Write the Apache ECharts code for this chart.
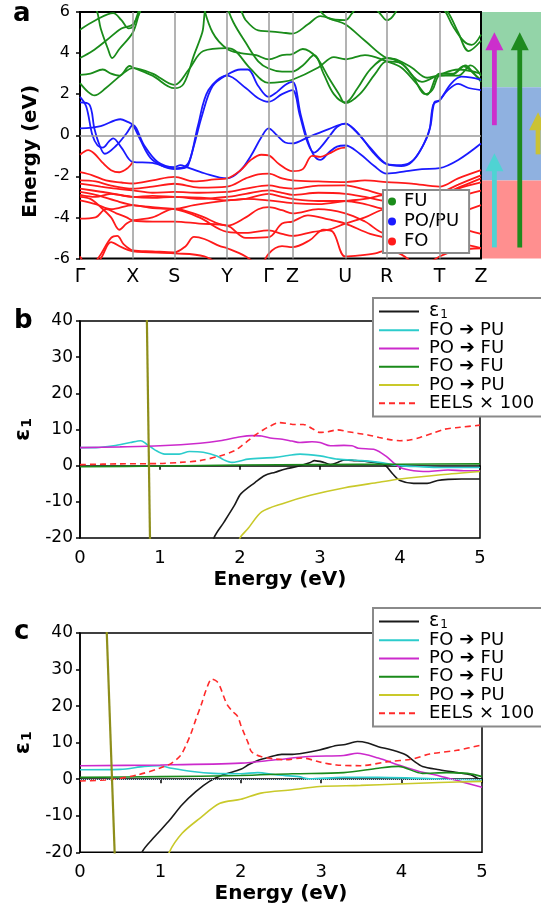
<!DOCTYPE html>
<html>
<head>
<meta charset="utf-8">
<script src="https://cdn.jsdelivr.net/npm/echarts@6/dist/echarts.min.js"></script>
<style>
  html, body { margin: 0; padding: 0; background: #fff; }
  #chart { width: 541px; height: 913px; }
</style>
</head>
<body>
<div id="chart"></div>
<script>
// panel a: k-path positions and labels
var kPos = [0, 51, 91, 142, 182, 205, 256, 296, 347, 387];
var kLabels = ["Γ", "X", "S", "Y", "Γ", "Z", "U", "R", "T", "Z"];

// FU bands (green)
var bandsFU = [
  [[0,2.54],[8,2.1],[14,1.94],[25,2.3],[40,2.94],[51,3.27],[70,3.0],[91,2.45],[105,3.2],[119,4.1],[142,4.24],[150,4.1],[164,3.27],[182,2.55],[195,2.6],[205,2.7],[230,3.3],[245,3.8],[256,3.7],[275,3.9],[296,3.6],[310,3.3],[325,2.5],[335,1.97],[347,3.0],[360,3.0],[370,3.36],[387,2.6]],
  [[0,2.94],[10,3.0],[22,3.2],[30,3.0],[38,2.9],[48,3.37],[51,3.3],[70,2.9],[91,2.29],[100,2.5],[110,3.9],[118,5.0],[124,6.3],[150,6.4],[160,5.6],[172,5.1],[182,5.06],[195,5.0],[205,4.95],[220,5.4],[232,5.8],[245,5.6],[256,5.4],[275,4.6],[296,3.76],[305,3.7],[320,3.3],[335,2.8],[347,2.9],[365,2.9],[377,3.4],[387,2.9]],
  [[0,3.76],[12,4.1],[25,4.6],[40,5.2],[51,5.4],[60,6.3]],
  [[0,5.14],[15,5.6],[32,5.95],[40,5.6],[47,5.2],[51,5.3],[55,5.8],[58,6.3]],
  [[0,7.0],[15,6.2],[20,5.2],[27,4.2],[31,3.76],[38,4.2],[51,5.0],[57,5.9],[62,6.5]],
  [[118,6.5],[128,5.0],[142,4.2],[155,4.0],[170,3.9],[182,3.69],[195,3.9],[205,3.95],[215,4.2],[228,3.8],[240,2.8],[250,2.0],[256,1.56],[270,2.0],[285,3.0],[296,3.6],[310,3.5],[322,2.8],[333,2.0],[340,2.2],[347,2.9],[360,2.95],[372,3.4],[380,3.0],[387,2.7]],
  [[140,6.5],[148,5.5],[160,4.5],[172,3.6],[182,3.25],[195,3.1],[205,3.1],[215,3.4],[226,3.9],[235,3.0],[245,2.0],[256,1.6],[268,2.3],[280,3.2],[296,3.76],[310,3.5],[330,2.6],[347,2.95],[365,3.2],[387,3.0]],
  [[225,6.5],[240,5.7],[256,5.6],[262,5.9],[270,6.5]],
  [[280,6.5],[290,5.9],[296,5.6],[302,5.8],[310,6.5]],
  [[338,6.5],[350,6.2],[360,5.3],[370,4.6],[378,4.4],[387,4.9]],
  [[345,6.5],[355,6.0],[365,5.0],[375,4.1],[387,4.6]]
];

// PO/PU bands (blue)
var bandsPO = [
  [[0,1.87],[6,1.4],[12,0.0],[17,-0.5],[22,-0.6],[28,-0.3],[32,-0.15],[40,-0.6],[51,-1.3],[70,-1.35],[91,-1.65],[100,-1.6],[104,-1.5],[110,-0.5],[118,1.0],[128,2.4],[142,2.95],[155,3.2],[162,3.2],[172,2.4],[182,1.87],[190,2.1],[198,2.45],[205,2.6],[213,1.0],[220,-0.3],[226,-1.0],[232,-1.2],[240,-0.85],[248,-0.55],[256,-0.5],[270,-0.9],[284,-1.5],[296,-1.87],[315,-1.75],[330,-1.65],[347,-1.6],[365,-1.2],[387,-0.4]],
  [[0,1.6],[9,1.5],[14,0.3],[19,-0.5],[24,-0.9],[35,-0.5],[45,0.1],[51,0.5],[62,-0.5],[75,-1.3],[91,-1.55],[97,-1.45],[103,-1.55],[120,-1.85],[142,-2.1],[155,-1.7],[165,-1.0],[175,-0.1],[182,0.33],[190,0.0],[198,-0.35],[205,-0.4],[220,-0.1],[240,0.3],[256,0.57],[266,0.2],[280,-0.6],[296,-1.4],[310,-1.5],[320,-1.3],[330,-0.6],[337,0.2],[341,1.5],[347,1.7],[355,2.2],[365,2.5],[375,2.3],[387,2.2]],
  [[0,0.33],[20,0.45],[39,0.78],[46,0.65],[51,0.5],[58,-0.2],[68,-1.1],[80,-1.5],[91,-1.6],[100,-1.55],[106,-1.2],[114,0.5],[124,2.2],[142,2.9],[160,2.3],[172,1.8],[182,1.63],[195,2.0],[205,2.2],[212,1.0],[220,-0.4],[226,-0.85],[232,-0.6],[240,-0.1],[248,0.4],[256,0.57],[270,0.0],[284,-0.9],[296,-1.4],[310,-1.45],[322,-1.2],[332,-0.4],[338,0.4],[342,1.6],[347,1.7],[358,2.5],[368,2.85],[378,2.8],[387,2.7]]
];

// FO bands (red)
var bandsFO = [
  [[0,-0.95],[8,-0.72],[14,-0.9],[22,-1.35],[30,-1.7],[38,-1.8],[46,-1.6],[51,-1.3]],
  [[0,-1.8],[12,-1.95],[25,-2.2],[40,-2.3],[51,-2.35],[70,-2.2],[91,-2.03],[110,-2.25],[130,-2.15],[142,-2.1],[155,-1.7],[165,-1.2],[175,-0.95],[182,-0.98],[192,-1.4],[205,-1.75],[215,-1.65],[224,-1.0],[232,-1.05],[240,-0.9],[250,-0.65],[256,-0.6]],
  [[0,-2.2],[15,-2.25],[30,-2.45],[51,-2.6],[70,-2.5],[91,-2.36],[115,-2.55],[142,-2.5],[160,-2.1],[172,-1.9],[182,-1.87],[195,-2.1],[205,-2.2],[230,-2.25],[256,-2.28],[275,-2.2],[296,-2.28],[320,-2.35],[347,-2.5],[365,-2.1],[387,-1.7]],
  [[0,-2.35],[20,-2.5],[35,-2.6],[51,-2.68],[70,-2.8],[91,-2.76],[115,-2.8],[142,-2.76],[160,-2.6],[182,-2.44],[195,-2.55],[205,-2.6],[230,-2.45],[256,-2.44],[275,-2.65],[296,-2.9],[320,-2.7],[347,-2.76],[365,-2.4],[387,-1.95]],
  [[0,-2.6],[20,-2.75],[51,-3.0],[70,-3.05],[91,-3.0],[115,-3.1],[142,-3.0],[160,-2.85],[182,-2.68],[195,-2.8],[205,-2.9],[230,-2.8],[256,-2.85],[275,-3.0],[296,-3.2],[320,-3.0],[347,-3.0],[365,-2.6],[387,-2.3]],
  [[0,-2.76],[15,-2.9],[35,-3.2],[51,-3.4],[70,-3.5],[91,-3.58],[110,-3.4],[142,-3.17],[160,-3.1],[182,-2.85],[195,-3.0],[205,-3.1],[230,-3.2],[256,-3.2],[275,-3.35],[296,-3.6],[320,-3.4],[347,-3.3],[365,-3.0],[387,-2.7]],
  [[0,-2.9],[15,-3.0],[30,-2.85],[51,-3.0],[70,-2.95],[91,-3.0],[120,-3.05],[142,-3.17],[160,-3.1],[182,-3.17],[205,-3.3],[230,-3.35],[256,-3.2],[275,-3.1],[296,-2.9],[320,-2.95],[347,-2.9],[365,-2.55],[387,-2.1]],
  [[0,-3.0],[10,-3.1],[20,-3.5],[30,-4.0],[38,-4.6],[45,-4.3],[51,-4.15],[70,-4.0],[91,-3.58],[115,-3.9],[142,-4.4],[160,-4.0],[172,-3.6],[182,-3.5],[195,-3.65],[205,-3.8],[230,-3.6],[256,-3.8],[275,-4.2],[296,-4.8],[320,-4.5],[347,-4.15],[365,-3.8],[387,-3.4]],
  [[0,-3.17],[15,-3.35],[30,-3.6],[51,-3.4],[70,-3.55],[91,-3.6],[115,-4.0],[142,-4.7],[160,-4.75],[182,-4.63],[195,-4.8],[205,-4.9],[225,-4.7],[240,-4.6],[256,-4.3],[275,-4.0],[296,-3.6],[320,-3.8],[347,-4.15],[365,-4.5],[387,-4.8]],
  [[0,-4.06],[15,-4.0],[25,-3.6],[35,-3.8],[45,-4.0],[51,-4.15],[70,-4.2],[91,-4.2],[115,-4.3],[142,-4.4],[160,-5.0],[182,-4.96],[195,-4.3],[205,-4.2],[220,-3.9],[240,-4.1],[256,-4.3],[280,-4.8],[296,-5.0],[320,-5.3],[347,-5.45],[365,-5.3],[387,-5.5]],
  [[10,-6.5],[20,-5.8],[30,-5.0],[36,-4.9],[42,-5.3],[51,-5.6],[70,-5.65],[91,-5.7],[102,-5.4],[110,-4.95],[120,-5.05],[135,-5.4],[142,-5.5],[160,-5.9],[170,-6.3]],
  [[0,-5.9],[10,-6.5],[20,-6.0],[30,-5.2],[40,-5.45],[51,-5.65],[91,-5.75],[120,-5.9],[140,-6.5]],
  [[175,-6.5],[182,-5.77],[195,-5.4],[205,-5.45],[222,-5.1],[235,-4.6],[244,-4.7],[256,-5.9],[270,-5.85],[285,-5.75],[296,-5.6],[310,-5.8],[325,-6.4]],
  [[330,-6.5],[347,-5.9],[365,-5.6],[387,-5.5]]
];

// schematic on the right of panel a (energies in eV)
var regionEdges = [6, 2.34, -2.2, -6];
var arrowSlot = [0.21, 0.21, 0.64, 0.95];
var arrowFrom = [0.49, -5.46, -5.46, -0.93];
var arrowTo = [5.02, -0.88, 5.02, 1.12];

// panel b
var epsB = [[1.6,-26],[1.68,-19.7],[1.8,-15.6],[1.93,-11],[2.01,-7.8],[2.19,-4.6],[2.31,-2.7],[2.44,-1.8],[2.57,-0.9],[2.7,-0.3],[2.88,0.9],[2.93,1.4],[3.05,0.9],[3.13,0.3],[3.22,0.9],[3.31,1.6],[3.44,1.4],[3.56,1.2],[3.74,0.7],[3.82,0],[3.91,-2.3],[4.0,-4.1],[4.17,-4.9],[4.34,-4.9],[4.47,-4.1],[4.6,-3.8],[4.77,-3.7],[5.0,-3.7]];
var foPuB = [[0,5.0],[0.2,5.0],[0.42,5.5],[0.63,6.4],[0.76,6.9],[0.83,6.0],[0.94,4.3],[1.06,3.2],[1.24,3.2],[1.37,3.9],[1.54,3.7],[1.71,2.7],[1.8,1.6],[1.9,0.9],[2.0,1.3],[2.1,1.8],[2.44,2.3],[2.6,2.8],[2.75,3.2],[3.0,2.7],[3.22,1.8],[3.52,1.4],[3.74,0.9],[4.0,0],[4.25,-0.3],[4.51,-0.5],[5.0,-0.5]];
var poFuB = [[0,5.0],[0.5,5.2],[1.0,5.5],[1.5,6.2],[1.75,6.9],[2.01,8.0],[2.15,8.3],[2.27,8.2],[2.4,7.6],[2.53,7.3],[2.65,6.8],[2.75,6.4],[2.9,6.6],[3.0,6.4],[3.13,5.5],[3.3,5.6],[3.4,5.5],[3.48,4.8],[3.69,4.4],[3.82,2.7],[3.92,0.8],[4.0,-0.5],[4.17,-1.4],[4.34,-1.6],[4.6,-1.2],[4.8,-1.4],[5.0,-1.4]];
var foFuB = [[0,-0.3],[1,-0.1],[2,0.2],[3,0.3],[4,0.4],[5,0.5]];
var poPuB = [[1.95,-24],[2.0,-20],[2.1,-17.4],[2.27,-12.8],[2.53,-10.5],[2.88,-8.2],[3.31,-6.1],[3.74,-4.6],[4.0,-3.7],[4.51,-2.5],[5.0,-1.6]];
var poleB = [[0.833,45],[0.878,-25]];
var eelsB = [[0,0.3],[0.5,0.5],[1,0.6],[1.25,0.9],[1.5,1.4],[1.75,2.7],[1.93,4.1],[2.02,5.5],[2.1,6.9],[2.18,8.3],[2.27,9.6],[2.38,11.0],[2.49,11.9],[2.58,11.7],[2.66,11.4],[2.79,11.4],[2.9,10.3],[3.0,9.2],[3.1,9.4],[3.22,9.9],[3.35,9.4],[3.48,8.9],[3.6,8.5],[3.74,7.8],[3.87,7.2],[4.0,6.9],[4.12,7.1],[4.25,7.8],[4.4,8.9],[4.56,10.1],[4.75,10.6],[5.0,11.2]];

// panel c
var epsC = [[0.72,-25],[0.77,-20],[0.93,-15.7],[1.1,-11.6],[1.27,-7.0],[1.44,-3.4],[1.61,-0.6],[1.78,1.2],[2.0,2.7],[2.1,4.0],[2.21,5.1],[2.35,6.0],[2.51,6.8],[2.64,6.8],[2.77,7.1],[2.98,8.0],[3.19,9.2],[3.3,9.5],[3.45,10.3],[3.58,9.9],[3.71,8.9],[3.88,8.0],[4.05,6.7],[4.15,5.0],[4.26,3.5],[4.47,2.6],[4.69,1.8],[4.86,1.2],[4.95,0.2],[5.0,-0.2]];
var foPuC = [[0,2.6],[0.5,2.7],[0.8,3.5],[0.99,3.7],[1.14,3.0],[1.4,2.1],[1.66,1.6],[2.0,1.5],[2.21,1.8],[2.43,1.2],[2.72,0.7],[2.85,0.1],[3.28,0.5],[3.71,0.5],[4.13,0.3],[4.56,0],[5.0,-0.2]];
var poFuC = [[0,3.7],[1,3.9],[2,4.4],[2.43,5.3],[2.85,6.2],[3.28,6.5],[3.45,7.1],[3.71,5.8],[3.96,3.9],[4.22,2.1],[4.47,0.9],[4.73,-0.6],[5.0,-2.2]];
var foFuC = [[0,0.5],[1,0.7],[2,1.0],[2.64,1.5],[3.28,1.8],[3.71,3.0],[3.96,3.5],[4.26,1.6],[4.56,1.8],[4.82,1.6],[5.0,0.7]];
var poPuC = [[1.05,-25],[1.11,-20],[1.27,-14.8],[1.49,-10.7],[1.74,-6.6],[2.0,-5.5],[2.25,-3.8],[2.64,-2.9],[2.98,-2.0],[3.49,-1.7],[3.96,-1.3],[4.47,-0.9],[5.0,-0.6]];
var poleC = [[0.325,45],[0.439,-25]];
var eelsC = [[0,-0.5],[0.42,0],[0.72,1.2],[0.99,3.0],[1.14,4.4],[1.25,6.5],[1.31,8.9],[1.38,12.5],[1.44,16.3],[1.51,20.5],[1.57,24.5],[1.64,27.4],[1.7,26.8],[1.74,25.4],[1.79,22.5],[1.83,20.4],[1.9,18.5],[1.96,17.2],[2.0,14.8],[2.04,12.6],[2.09,10],[2.13,7.6],[2.19,6.7],[2.25,6.2],[2.4,5.6],[2.55,5.3],[2.77,5.8],[2.98,4.7],[3.19,3.9],[3.49,3.7],[3.83,4.8],[4.13,5.5],[4.35,6.9],[4.69,7.9],[5.0,9.4]];

var font = "DejaVu Sans, Liberation Sans, sans-serif";
var regionColors = ["#93d4a8", "#8fb1e0", "#ff8f8f"];
var arrowColors = ["#cc2fcc", "#4fd3d3", "#1e8a1e", "#cbc234"];
var specNames = ["ε1", "FO ➔ PU", "PO ➔ FU", "FO ➔ FU", "PO ➔ PU", "EELS × 100"];
var specColors = ["#1a1a1a", "#2ccccc", "#cc2acc", "#1a8a1a", "#c9c92a", "#ff2a2a"];

var chart = echarts.init(document.getElementById("chart"), null, { renderer: "canvas" });

function bandSeries(bands, name, color) {
  return bands.map(function (b) {
    return {
      type: "line", name: name, xAxisIndex: 0, yAxisIndex: 0,
      data: b, smooth: 0.35, symbol: "none", clip: true, z: 3,
      itemStyle: { color: color },
      lineStyle: { color: color, width: 1.8 }
    };
  });
}

function specSeries(panel, sets, pole) {
  var out = sets.map(function (d, i) {
    return {
      type: "line", name: specNames[i], xAxisIndex: panel, yAxisIndex: panel,
      data: d, smooth: 0.3, symbol: "none", clip: true, z: i === 0 ? 3 : 4,
      itemStyle: { color: specColors[i] },
      lineStyle: { color: specColors[i], width: 1.6, type: i === 5 ? [6, 4] : "solid" }
    };
  });
  out.push({
    type: "line", name: "pole", xAxisIndex: panel, yAxisIndex: panel,
    data: pole, symbol: "none", clip: true, z: 5,
    lineStyle: { color: "#8e8e1a", width: 2.2 }
  });
  return out;
}

var epsRich = {
  e: { fontFamily: font, fontSize: 22, fontWeight: "bold", color: "#000" },
  s: { fontFamily: font, fontSize: 14, fontWeight: "bold", color: "#000", padding: [9, 0, 0, 1] }
};

function specAxes(idx, nameGapX) {
  return {
    x: {
      type: "value", gridIndex: idx, min: 0, max: 5, interval: 1,
      name: "Energy (eV)", nameLocation: "middle", nameGap: nameGapX,
      nameTextStyle: { fontFamily: font, fontSize: 20, fontWeight: "bold", color: "#000" },
      axisLine: { show: true, lineStyle: { color: "#000", width: 1.5 } },
      axisTick: { show: true, length: 4, lineStyle: { color: "#000", width: 1.5 } },
      axisLabel: { fontFamily: font, fontSize: 18, color: "#000", margin: 11 },
      splitLine: { show: false }
    },
    y: {
      type: "value", gridIndex: idx, min: -20, max: 40, interval: 10,
      name: "{e|ε}{s|1}", nameLocation: "middle", nameGap: 38, nameRotate: 90,
      nameTextStyle: { rich: epsRich },
      axisLine: { show: true, lineStyle: { color: "#000", width: 1.5 } },
      axisTick: { show: true, length: 4, lineStyle: { color: "#000", width: 1.5 } },
      axisLabel: { fontFamily: font, fontSize: 17, color: "#000", margin: 7 },
      splitLine: { show: false }
    }
  };
}

var axB = specAxes(2, 32);
var axC = specAxes(3, 31);

function specLegend(top) {
  return {
    data: specNames, left: 373, top: top, orient: "vertical",
    itemWidth: 40, itemHeight: 12, itemGap: 0,
    padding: [4, 30, 4, 5],
    itemStyle: { opacity: 0 },
    backgroundColor: "#fff", borderColor: "#8a8a8a", borderWidth: 2,
    formatter: function (name) {
      return name === specNames[0] ? "{e|ε}{s|1}" : name;
    },
    textStyle: {
      fontFamily: font, fontSize: 18, color: "#000", lineHeight: 18.3, padding: [0, 0, 0, 5],
      rich: {
        e: { fontFamily: font, fontSize: 19, color: "#000", lineHeight: 18.3 },
        s: { fontFamily: font, fontSize: 12, color: "#000", lineHeight: 11, padding: [7, 0, 0, 1] }
      }
    }
  };
}

var option = {
  animation: false,
  backgroundColor: "#fff",
  grid: [
    { left: 80, top: 12, width: 401, height: 246.5, show: true, borderColor: "#000", borderWidth: 2, backgroundColor: "transparent" },
    { left: 482, top: 12, width: 59, height: 246.5 },
    { left: 80, top: 321, width: 400, height: 217, show: true, borderColor: "#000", borderWidth: 1.5 },
    { left: 80, top: 633, width: 402, height: 219.3, show: true, borderColor: "#000", borderWidth: 1.5 }
  ],
  xAxis: [
    {
      type: "value", gridIndex: 0, min: 0, max: 387,
      axisLine: { show: false }, axisTick: { show: false }, splitLine: { show: false },
      axisLabel: {
        customValues: kPos, showMinLabel: true, showMaxLabel: true,
        fontFamily: font, fontSize: 19, color: "#000", margin: 9,
        formatter: function (v) { return kLabels[kPos.indexOf(v)]; }
      }
    },
    { type: "value", gridIndex: 1, min: 0, max: 1, show: false },
    axB.x, axC.x
  ],
  yAxis: [
    {
      type: "value", gridIndex: 0, min: -6, max: 6, interval: 2,
      name: "Energy (eV)", nameLocation: "middle", nameGap: 39,
      nameTextStyle: { fontFamily: font, fontSize: 20, fontWeight: "bold", color: "#000", padding: [0, 32, 0, 0] },
      axisLine: { show: false },
      axisTick: { show: true, length: 4, lineStyle: { color: "#000", width: 1.5 } },
      axisLabel: { fontFamily: font, fontSize: 16, color: "#000", margin: 10 },
      splitLine: { show: false }
    },
    { type: "value", gridIndex: 1, min: -6, max: 6, show: false },
    axB.y, axC.y
  ],
  legend: [
    {
      data: ["FU", "PO/PU", "FO"], left: 383, top: 190, orient: "vertical",
      icon: "circle", itemWidth: 8, itemHeight: 8, itemGap: 1,
      padding: [2, 10, 2, 5],
      backgroundColor: "#fff", borderColor: "#8a8a8a", borderWidth: 2,
      textStyle: { fontFamily: font, fontSize: 18, color: "#000", lineHeight: 19, padding: [0, 0, 0, 3] }
    },
    specLegend(298),
    specLegend(608)
  ],
  graphic: [
    { type: "text", left: 13, top: 1, style: { text: "a", font: "bold 26px " + font, fill: "#000" } },
    { type: "text", left: 14, top: 308, style: { text: "b", font: "bold 26px " + font, fill: "#000" } },
    { type: "text", left: 14, top: 619, style: { text: "c", font: "bold 26px " + font, fill: "#000" } }
  ],
  series: []
};

// grid lines of panel a
option.series.push({
  type: "line", xAxisIndex: 0, yAxisIndex: 0, data: [], z: 1,
  markLine: {
    silent: true, symbol: "none", label: { show: false }, animation: false,
    lineStyle: { color: "#9a9a9a", width: 1.5, type: "solid" },
    data: kPos.slice(1, -1).map(function (k) { return { xAxis: k }; }).concat([{ yAxis: 0 }])
  }
});
option.series = option.series
  .concat(bandSeries(bandsFU, "FU", "#1a8c1a"))
  .concat(bandSeries(bandsPO, "PO/PU", "#1a1aff"))
  .concat(bandSeries(bandsFO, "FO", "#ff1a1a"));

// schematic regions and arrows
option.series.push({
  type: "custom", xAxisIndex: 1, yAxisIndex: 1, z: 1,
  data: regionEdges.slice(0, -1).map(function (e, i) { return [0, e, regionEdges[i + 1], i]; }),
  renderItem: function (params, api) {
    var p0 = api.coord([0, api.value(1)]);
    var p1 = api.coord([1, api.value(2)]);
    return { type: "rect", shape: { x: p0[0], y: p0[1], width: p1[0] - p0[0] + 2, height: p1[1] - p0[1] }, style: { fill: regionColors[api.value(3)] } };
  }
});
option.series.push({
  type: "custom", xAxisIndex: 1, yAxisIndex: 1, z: 2,
  data: arrowSlot.map(function (s, i) { return [s, arrowFrom[i], arrowTo[i], i]; }),
  renderItem: function (params, api) {
    var p0 = api.coord([api.value(0), api.value(1)]);
    var p1 = api.coord([api.value(0), api.value(2)]);
    var c = arrowColors[api.value(3)];
    var hw = 9, hh = 18, sw = 2.4;
    return {
      type: "group",
      children: [
        { type: "rect", shape: { x: p0[0] - sw, y: p1[1] + hh - 1, width: 2 * sw, height: p0[1] - p1[1] - hh + 1 }, style: { fill: c } },
        { type: "polygon", shape: { points: [[p1[0], p1[1]], [p1[0] - hw, p1[1] + hh], [p1[0] + hw, p1[1] + hh]] }, style: { fill: c } }
      ]
    };
  }
});

// panels b and c
option.series = option.series
  .concat(specSeries(2, [epsB, foPuB, poFuB, foFuB, poPuB, eelsB], poleB))
  .concat(specSeries(3, [epsC, foPuC, poFuC, foFuC, poPuC, eelsC], poleC));
option.series.push({
  type: "line", xAxisIndex: 3, yAxisIndex: 3, data: [], z: 1,
  markLine: {
    silent: true, symbol: "none", label: { show: false }, animation: false,
    lineStyle: { color: "#a8d4ec", width: 1, type: "dotted" },
    data: [{ yAxis: 0 }]
  }
});

chart.setOption(option);
window.addEventListener("resize", function () {
  chart.resize();
});
</script>
</body>
</html>
